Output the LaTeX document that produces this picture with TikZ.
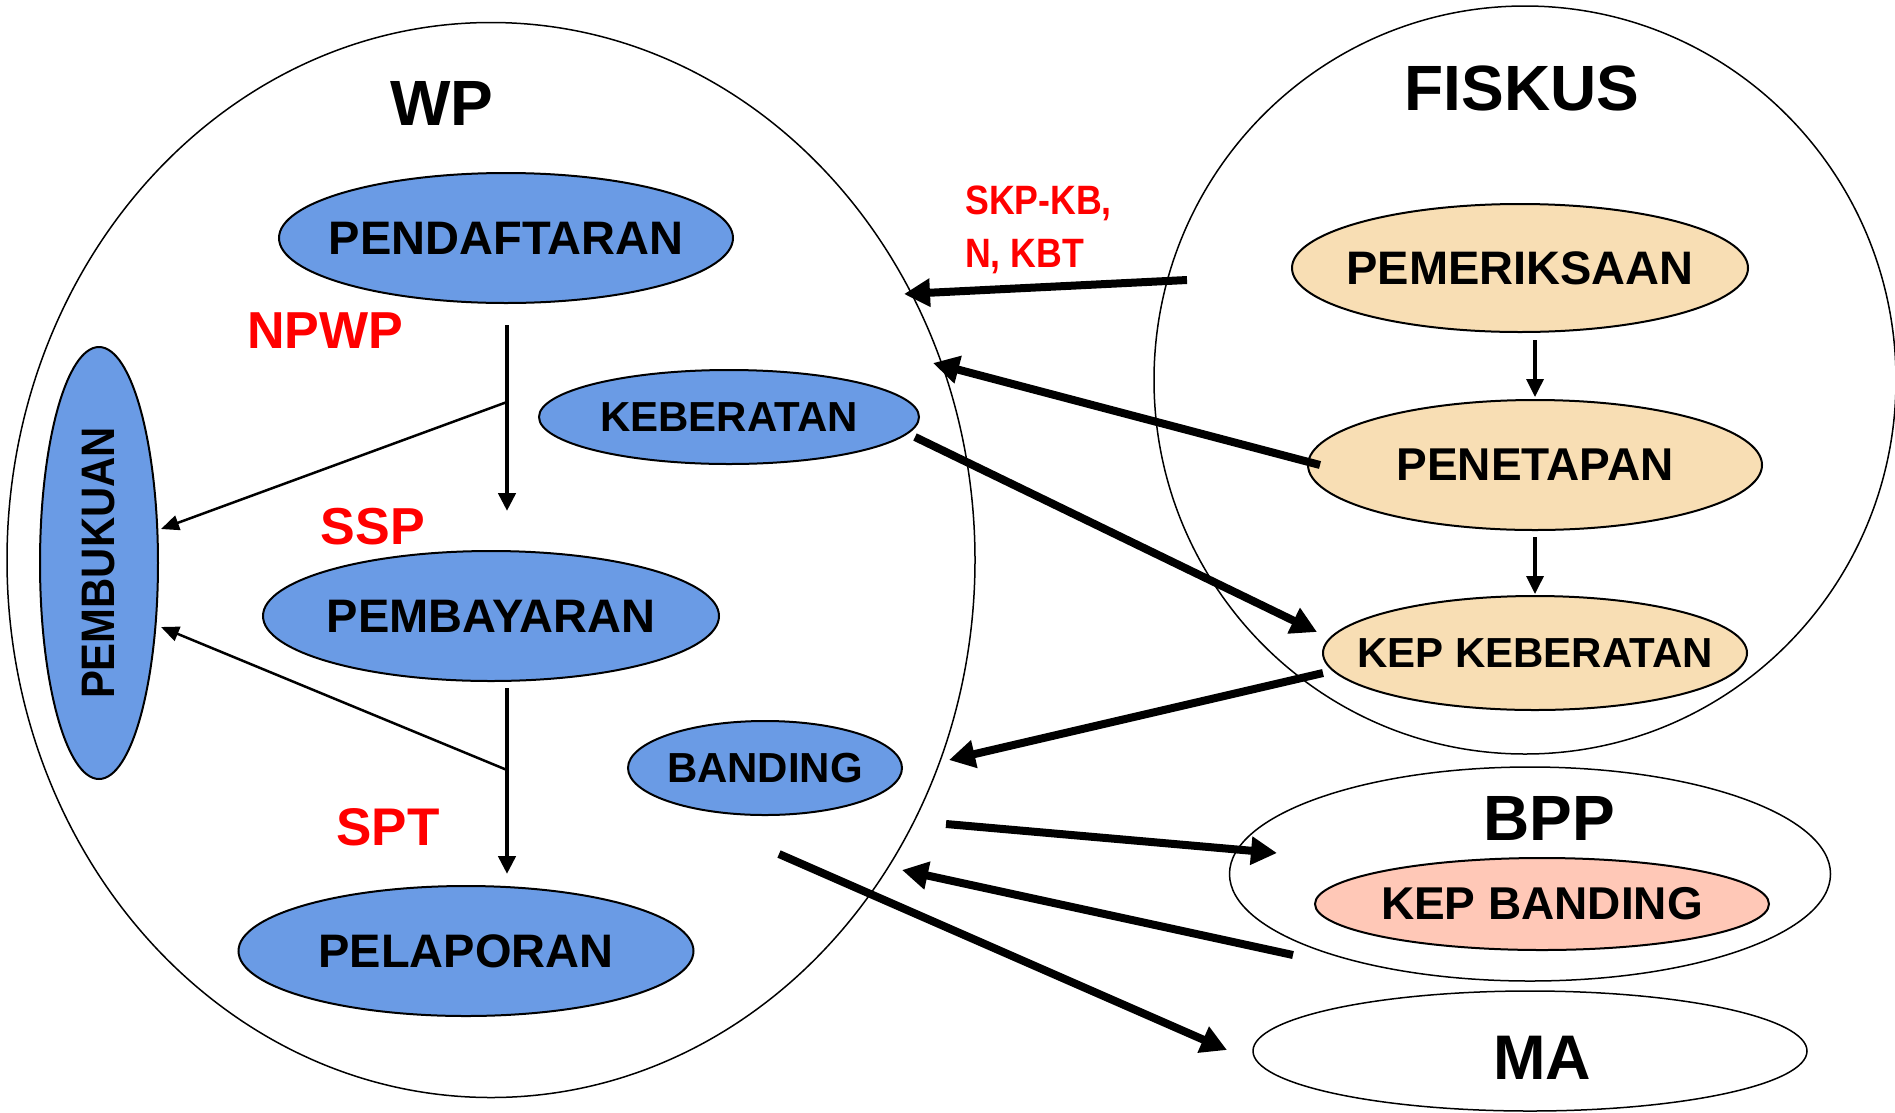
\documentclass[tikz,border=0pt]{standalone}
\usepackage{fontspec}
\setmainfont{Liberation Sans}
\newfontfamily\narrowfont{Liberation Sans}[FakeStretch=0.89]
\newfontfamily\condfont{Liberation Sans}[FakeStretch=0.87]
\usetikzlibrary{shapes.geometric,arrows.meta}
\definecolor{wpblue}{RGB}{106,155,229}
\definecolor{fistan}{RGB}{248,222,180}
\definecolor{kbsalmon}{RGB}{255,200,183}
\definecolor{lblred}{RGB}{255,0,0}
\begin{document}
\begin{tikzpicture}[x=1pt,y=-1pt,
  big/.style={ellipse, draw=black, line width=1.5pt, inner sep=0pt},
  blob/.style={ellipse, draw=black, line width=2pt, inner sep=0pt},
  fs/.style={font=\fontsize{#1}{#1}\selectfont\bfseries},
  redlbl/.style={text=lblred, inner sep=0pt, anchor=base},
  title/.style={inner sep=0pt, anchor=base},
  thinarr/.style={line width=2.5pt, -{Triangle[length=18pt,width=15pt]}},
  medarr/.style={line width=4.5pt, -{Triangle[length=18pt,width=17pt]}},
  thickarr/.style={line width=8pt, -{Triangle[length=26pt,width=27pt]}}
]
\useasboundingbox (0,0) rectangle (1895,1112);
\fill[white] (0,0) rectangle (1895,1112);

% big containers
\node[big, minimum width=968, minimum height=1075] (wp) at (491,560) {};
\node[big, minimum width=742, minimum height=748] (fiskus) at (1525,380) {};
\node[big, minimum width=601, minimum height=214] (bpp) at (1530,874) {};
\node[big, minimum width=554, minimum height=120] (ma) at (1530,1051) {};

% titles
\node[title, fs=64] (wpt) at (442,125) {WP};
\node[title, fs=64] (fiskust) at (1522,110) {FISKUS};
\node[title, fs=64] (bppt) at (1549,840) {BPP};
\node[title, fs=63] (mat) at (1542,1079) {MA};

% WP nodes
\node[blob, fill=wpblue, minimum width=454, minimum height=130,
  label={[fs=47]center:PENDAFTARAN}] (pend) at (506,238) {};
\node[blob, fill=wpblue, minimum width=380, minimum height=94,
  label={[fs=42]center:KEBERATAN}] (keb) at (729,417) {};
\node[blob, fill=wpblue, minimum width=456, minimum height=130,
  label={[fs=47]center:PEMBAYARAN}] (pemb) at (491,616) {};
\node[blob, fill=wpblue, minimum width=455, minimum height=130,
  label={[fs=47]center:PELAPORAN}] (pel) at (466,951) {};
\node[blob, fill=wpblue, minimum width=274, minimum height=94,
  label={[fs=42]center:BANDING}] (band) at (765,768) {};
\node[blob, fill=wpblue, minimum width=118, minimum height=432,
  label={[font=\narrowfont\fontsize{47}{47}\selectfont\bfseries, rotate=90]center:PEMBUKUAN}] (buku) at (99,563) {};

% FISKUS nodes
\node[blob, fill=fistan, minimum width=456, minimum height=128,
  label={[fs=47]center:PEMERIKSAAN}] (periksa) at (1520,268) {};
\node[blob, fill=fistan, minimum width=454, minimum height=130,
  label={[fs=46]center:PENETAPAN}] (tetap) at (1535,465) {};
\node[blob, fill=fistan, minimum width=424, minimum height=114,
  label={[fs=42]center:KEP KEBERATAN}] (kepkeb) at (1535,653) {};
\node[blob, fill=kbsalmon, minimum width=454, minimum height=92,
  label={[fs=46]center:KEP BANDING}] (kepband) at (1542,904) {};

% red labels
\node[redlbl, fs=52] (npwp) at (325,348) {NPWP};
\node[redlbl, fs=52] (ssp) at (373,544) {SSP};
\node[redlbl, fs=53] (spt) at (388,845) {SPT};
\node[redlbl, font=\condfont\fontsize{41}{41}\selectfont\bfseries, anchor=base west] (skp1) at (965,214) {SKP-KB,};
\node[redlbl, font=\condfont\fontsize{41}{41}\selectfont\bfseries, anchor=base west] (skp2) at (965,267) {N, KBT};

% connector end points
\coordinate (v1s) at (507,325);
\coordinate (v1e) at (507,511);
\coordinate (b1) at (507,402);
\coordinate (p1) at (161,529);
\coordinate (v2s) at (507,688);
\coordinate (v2e) at (507,874);
\coordinate (b2) at (507,770);
\coordinate (p2) at (161,627);
\coordinate (f1s) at (1535,340);
\coordinate (f1e) at (1535,397);
\coordinate (f2s) at (1535,537);
\coordinate (f2e) at (1535,594);
\coordinate (as) at (1187,280);
\coordinate (ae) at (904,294);
\coordinate (bs) at (1320,465);
\coordinate (be) at (933,363);
\coordinate (cs) at (915,437);
\coordinate (ce) at (1317,632);
\coordinate (ds) at (1323,673);
\coordinate (de) at (949,760);
\coordinate (es) at (946,824);
\coordinate (ee) at (1277,853);
\coordinate (fst) at (1293,955);
\coordinate (fe) at (902,870);
\coordinate (gs) at (779,854);
\coordinate (ge) at (1227,1050);

% WP flow
\draw[medarr] (v1s) -- (v1e);
\draw[thinarr] (b1) -- (p1);
\draw[medarr] (v2s) -- (v2e);
\draw[thinarr] (b2) -- (p2);

% FISKUS flow
\draw[medarr, line width=3.5pt] (f1s) -- (f1e);
\draw[medarr, line width=3.5pt] (f2s) -- (f2e);

% cross arrows
\draw[thickarr] (as) -- (ae);
\draw[thickarr] (bs) -- (be);
\draw[thickarr] (cs) -- (ce);
\draw[thickarr] (ds) -- (de);
\draw[thickarr] (es) -- (ee);
\draw[thickarr] (fst) -- (fe);
\draw[thickarr] (gs) -- (ge);
\end{tikzpicture}
\end{document}
